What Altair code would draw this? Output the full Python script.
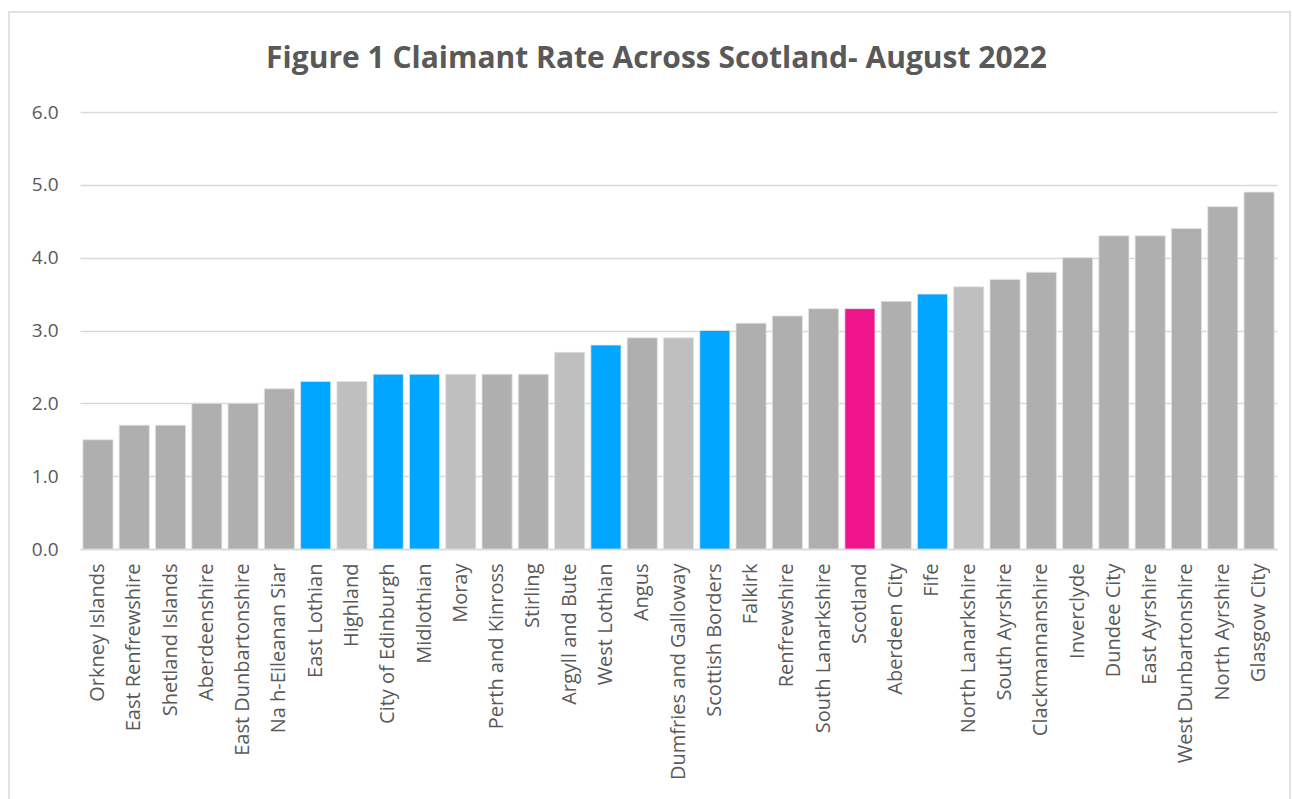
import altair as alt
import pandas as pd

areas = ["Orkney Islands", "East Renfrewshire", "Shetland Islands", "Aberdeenshire",
         "East Dunbartonshire", "Na h-Eileanan Siar", "East Lothian", "Highland",
         "City of Edinburgh", "Midlothian", "Moray", "Perth and Kinross", "Stirling",
         "Argyll and Bute", "West Lothian", "Angus", "Dumfries and Galloway",
         "Scottish Borders", "Falkirk", "Renfrewshire", "South Lanarkshire", "Scotland",
         "Aberdeen City", "Fife", "North Lanarkshire", "South Ayrshire",
         "Clackmannanshire", "Inverclyde", "Dundee City", "East Ayrshire",
         "West Dunbartonshire", "North Ayrshire", "Glasgow City"]
rates = [1.5, 1.7, 1.7, 2.0, 2.0, 2.2, 2.3, 2.3, 2.4, 2.4, 2.4, 2.4, 2.4,
         2.7, 2.8, 2.9, 2.9, 3.0, 3.1, 3.2, 3.3, 3.3, 3.4, 3.5, 3.6, 3.7,
         3.8, 4.0, 4.3, 4.3, 4.4, 4.7, 4.9]
groups = ["d", "d", "d", "d", "d", "d", "b", "l", "b", "b", "l", "d", "d",
          "l", "b", "d", "l", "b", "d", "d", "d", "p", "d", "b", "l", "d",
          "d", "d", "d", "d", "d", "d", "d"]
palette = {"d": "#AFAFAF", "l": "#BFBFBF", "b": "#00A6FF", "p": "#F0148A"}

df = pd.DataFrame({"area": areas, "rate": rates,
                   "color": [palette[g] for g in groups]})

W, H = 1197, 437

bars = alt.Chart(df).mark_bar(stroke="#E3E3E3", strokeWidth=0.8).encode(
    x=alt.X("area:N", sort=areas, title=None,
            scale=alt.Scale(paddingInner=0.17, paddingOuter=0.08),
            axis=alt.Axis(labelAngle=-90, labelFont="Open Sans", labelFontSize=20,
                          labelColor="#595959", ticks=False, domainColor="#D9D9D9",
                          domainWidth=1.5, labelPadding=14, labelLimit=300)),
    y=alt.Y("rate:Q", title=None,
            scale=alt.Scale(domain=[0, 6]),
            axis=alt.Axis(values=[0, 1, 2, 3, 4, 5, 6], format=".1f", labelFont="Open Sans",
                          labelFontSize=19, labelColor="#595959", ticks=False,
                          domain=False, gridColor="#D9D9D9", gridWidth=1.5,
                          labelPadding=22)),
    color=alt.Color("color:N", scale=None),
)

frame = alt.Chart(pd.DataFrame({"k": [0]})).mark_rect(
    filled=False, stroke="#D9D9D9", strokeWidth=1.5, clip=False
).encode(x=alt.value(-71), x2=alt.value(W + 13), y=alt.value(-100), y2=alt.value(H + 260))

chart = alt.layer(frame, bars).properties(
    width=W, height=H,
    padding={"left": 80, "top": 112, "right": 15, "bottom": 250},
    autosize=alt.AutoSizeParams(type="none"),
    title=alt.TitleParams("Figure 1 Claimant Rate Across Scotland- August 2022",
                          font="Open Sans", fontSize=30, fontWeight="bold",
                          color="#595959", anchor="middle", offset=-63, dx=-22),
).configure_view(stroke=None)

chart.save("out.html", embed_options={"renderer": "svg", "actions": False})
